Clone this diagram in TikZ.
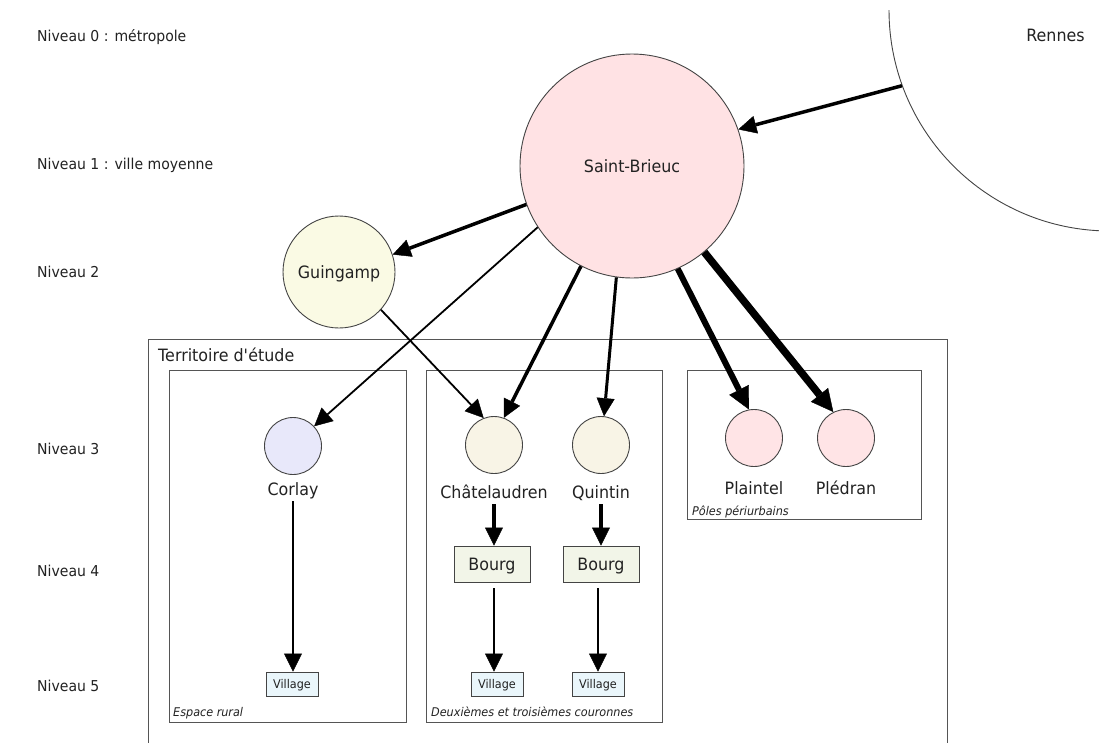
\documentclass[tikz,border=0pt]{standalone}
\usepackage{fontspec}
\setmainfont{DejaVu Sans}[FakeStretch=0.935]
\usetikzlibrary{arrows.meta}
\definecolor{txt}{HTML}{222222}
\definecolor{edge}{HTML}{444444}
\definecolor{boxedge}{HTML}{555555}
\definecolor{sbfill}{HTML}{FFE2E4}
\definecolor{gfill}{HTML}{FAFAE4}
\definecolor{cfill}{HTML}{E8E8FA}
\definecolor{qfill}{HTML}{F8F4E6}
\definecolor{pfill}{HTML}{FFE4E6}
\definecolor{bfill}{HTML}{F2F5E8}
\definecolor{vfill}{HTML}{EAF6FB}
\newcommand{\myfontbig}{\fontsize{17}{20}\selectfont}
\newcommand{\myfontlvl}{\fontsize{15}{18}\selectfont}
\newcommand{\myfontsmall}{\fontsize{12}{14}\selectfont}
\begin{document}
\begin{tikzpicture}[x=1pt,y=-1pt,
 every node/.style={text=txt},
 lvl/.style={anchor=base west,inner sep=0pt,font=\myfontlvl},
 ttl/.style={anchor=base west,inner sep=0pt,font=\myfontbig},
 city/.style={circle,draw=edge,line width=0.9pt,inner sep=0pt,font=\myfontbig},
 lbl/.style={anchor=base,inner sep=2pt,text depth=4pt,font=\myfontbig},
 zone/.style={draw=boxedge,line width=0.9pt,anchor=north west,inner sep=0pt},
 zonelbl/.style={anchor=base west,inner sep=0pt,font=\myfontsmall\itshape},
 bourgbox/.style={draw=edge,line width=0.9pt,fill=bfill,minimum width=76pt,minimum height=36pt,inner sep=0pt,text height=12.5pt,text depth=0pt,font=\myfontbig},
 villagebox/.style={draw=edge,line width=0.9pt,fill=vfill,minimum width=52pt,minimum height=24pt,inner sep=0pt,text height=9pt,text depth=0pt,font=\myfontsmall},
 arr/.style={draw=black,-{Triangle[length=18pt,width=18pt,line width=0.4pt]}},
 bigarr/.style={draw=black,-{Triangle[length=22pt,width=22pt,line width=0.4pt]}},
]
\useasboundingbox (0,0) rectangle (1099,742);
\fill[white] (0,0) rectangle (1099,742);

% level labels
\node[lvl] (n0) at (37,41) {Niveau 0 : métropole};
\node[lvl] (n1) at (37,169) {Niveau 1 : ville moyenne};
\node[lvl] (n2) at (37,277.5) {Niveau 2};
\node[lvl] (n3) at (37,454.5) {Niveau 3};
\node[lvl] (n4) at (37,576.5) {Niveau 4};
\node[lvl] (n5) at (37,691.5) {Niveau 5};

% Rennes
\begin{scope}
\clip (0,10) rectangle (1099,742);
\node[circle,draw=edge,line width=0.9pt,minimum size=442pt,inner sep=0pt] (rennes) at (1110,10) {};
\end{scope}
\node[anchor=base,inner sep=0pt,font=\myfontbig] (rennestxt) at (1055.5,41.7) {Rennes};

% zones
\node[zone,minimum width=799pt,minimum height=430pt] (terr) at (148,339) {};
\node[ttl] (terrlbl) at (158,361) {Territoire d\textquotesingle étude};
\node[zone,minimum width=237pt,minimum height=352pt] (z1) at (169,370) {};
\node[zone,minimum width=236pt,minimum height=352pt] (z2) at (426,370) {};
\node[zone,minimum width=234pt,minimum height=149pt] (z3) at (687,370) {};
\node[zonelbl] (z1lbl) at (173,716) {Espace rural};
\node[zonelbl] (z2lbl) at (431,716) {Deuxièmes et troisièmes couronnes};
\node[zonelbl] (z3lbl) at (692,515) {Pôles périurbains};

% cities
\node[city,fill=sbfill,minimum size=224pt,text height=12.5pt,text depth=0pt] (sb) at (632,166) {Saint-Brieuc};
\node[city,fill=gfill,minimum size=112pt,text height=12.5pt,text depth=0pt] (gu) at (339,272) {Guingamp};
\node[city,fill=cfill,minimum size=57pt] (co) at (293,446) {};
\node[city,fill=qfill,minimum size=57pt] (ch) at (494,445) {};
\node[city,fill=qfill,minimum size=57pt] (qu) at (601,445) {};
\node[city,fill=pfill,minimum size=57pt] (pl) at (754,438) {};
\node[city,fill=pfill,minimum size=57pt] (pd) at (846,438) {};
\node[lbl] (colbl) at (293,495) {Corlay};
\node[lbl] (chlbl) at (494,498) {Châtelaudren};
\node[lbl] (qulbl) at (601,498) {Quintin};
\node[lbl] (pllbl) at (754,494) {Plaintel};
\node[lbl] (pdlbl) at (846,494) {Plédran};

\node[bourgbox] (b1) at (492,564) {Bourg};
\node[bourgbox] (b2) at (601,564) {Bourg};
\node[villagebox] (v1) at (292,684) {Village};
\node[villagebox] (v2) at (497,684) {Village};
\node[villagebox] (v3) at (598,684) {Village};

% connectors
\draw[arr,line width=3.5pt] (rennes.-160.4) -- (sb.19);
\draw[arr,line width=3.5pt] (sb.200.4) -- (gu.18);
\draw[arr,line width=1.8pt] (sb.213.1) -- (co.43.5);
\draw[arr,line width=1.8pt] (gu.-42.9) -- (ch.111);
\draw[arr,line width=3.5pt] (sb.-117.4) -- (ch.70);
\draw[arr,line width=3pt] (sb.-98.2) -- (qu.84.5);
\draw[bigarr,line width=6pt] (sb.-66.1) -- (pl.100);
\draw[bigarr,line width=7.5pt] (sb.-50.8) -- (pd.116.6);

\draw[arr,line width=1.8pt] (colbl.south) -- (colbl.south |- v1.north);
\draw[arr,line width=3.5pt] (chlbl.south) -- (chlbl.south |- b1.north);
\draw[arr,line width=3.5pt] (qulbl.south) -- (qulbl.south |- b2.north);
\draw[arr,line width=1.8pt,shorten <=6pt] (b1.south -| chlbl.south) -- (chlbl.south |- v2.north);
\draw[arr,line width=1.8pt,shorten <=6pt] (b2.south -| v3.north) -- (v3.north);
\end{tikzpicture}
\end{document}
